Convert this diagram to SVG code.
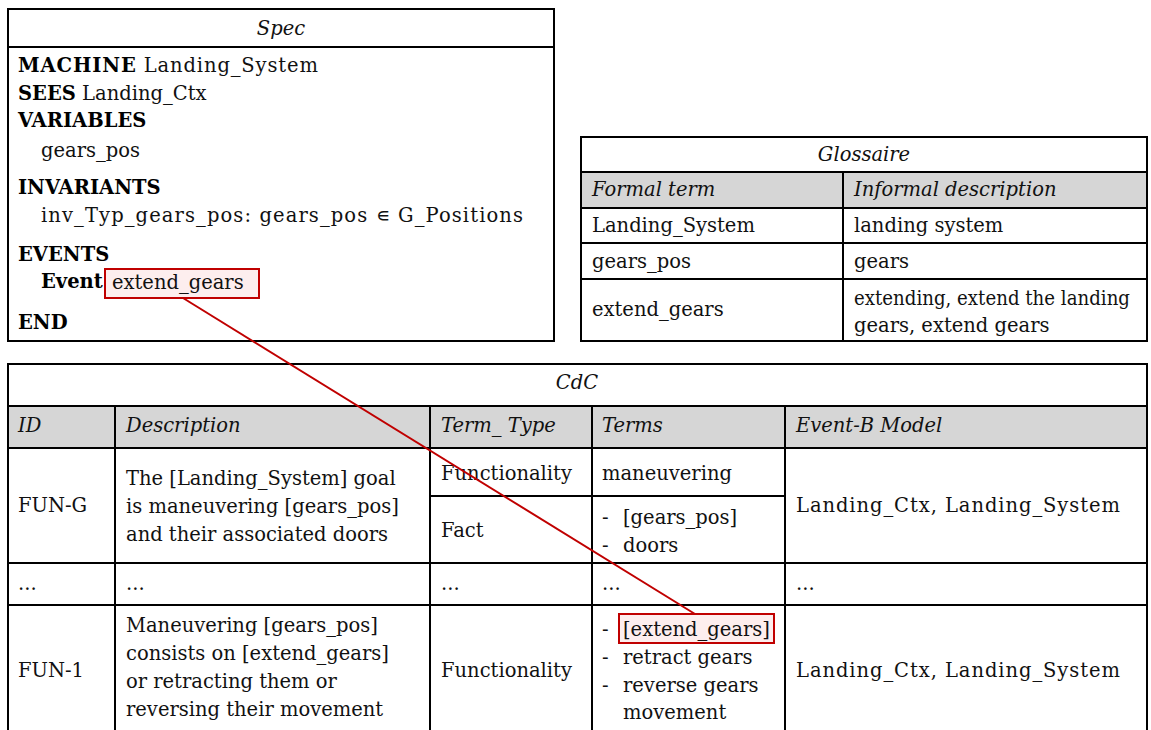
<svg xmlns="http://www.w3.org/2000/svg" width="1151" height="730" viewBox="0 0 1151 730">
<style>
text{font-family:"DejaVu Serif","Liberation Serif",serif;font-size:19.5px;fill:#111}
.it{font-style:italic}
.b{font-weight:bold;fill:#000}
.mid{text-anchor:middle}
.box{fill:#fff;stroke:#000;stroke-width:2}
.hd{fill:#d6d6d6;stroke:#000;stroke-width:2}
.ln{stroke:#000;stroke-width:2;fill:none}
.hl{fill:#fdeeee;stroke:#c00000;stroke-width:2}
.conn{stroke:#c00000;stroke-width:2;fill:none}
</style>
<rect width="1151" height="730" fill="#fff"/>
<g id="spec">
<rect class="box" x="8" y="9" width="546" height="332"/>
<line class="ln" x1="8" y1="47" x2="554" y2="47"/>
<text class="it mid" x="281" y="35">Spec</text>
<text x="18" y="72" textLength="300" lengthAdjust="spacing"><tspan class="b">MACHINE</tspan> Landing_System</text>
<text x="18" y="100"><tspan class="b">SEES</tspan> Landing_Ctx</text>
<text class="b" x="18" y="127">VARIABLES</text>
<text x="41" y="157">gears_pos</text>
<text class="b" x="18" y="194">INVARIANTS</text>
<text x="41" y="222" textLength="482" lengthAdjust="spacing">inv_Typ_gears_pos: gears_pos ∊ G_Positions</text>
<text class="b" x="18" y="261">EVENTS</text>
<text class="b" x="41" y="288">Event</text>
<rect class="hl" x="105" y="269" width="154" height="29"/>
<text x="112" y="289">extend_gears</text>
<text class="b" x="18" y="329">END</text>
</g>
<g id="glossaire">
<rect class="box" x="581" y="137" width="566" height="204"/>
<rect class="hd" x="581" y="172" width="566" height="36"/>
<line class="ln" x1="843" y1="172" x2="843" y2="341"/>
<line class="ln" x1="581" y1="243" x2="1147" y2="243"/>
<line class="ln" x1="581" y1="279" x2="1147" y2="279"/>
<text class="it mid" x="864" y="161">Glossaire</text>
<text class="it" x="592" y="196">Formal term</text>
<text class="it" x="854" y="196">Informal description</text>
<text x="592" y="232">Landing_System</text>
<text x="854" y="232">landing system</text>
<text x="592" y="268">gears_pos</text>
<text x="854" y="268">gears</text>
<text x="592" y="316">extend_gears</text>
<text x="854" y="305" textLength="276" lengthAdjust="spacingAndGlyphs">extending, extend the landing</text>
<text x="854" y="332">gears, extend gears</text>
</g>
<g id="cdc">
<rect class="box" x="8" y="364" width="1139" height="380"/>
<rect class="hd" x="8" y="406" width="1139" height="42"/>
<line class="ln" x1="115" y1="406" x2="115" y2="730"/>
<line class="ln" x1="430" y1="406" x2="430" y2="730"/>
<line class="ln" x1="592" y1="406" x2="592" y2="730"/>
<line class="ln" x1="785" y1="406" x2="785" y2="730"/>
<line class="ln" x1="430" y1="496" x2="785" y2="496"/>
<line class="ln" x1="8" y1="563" x2="1147" y2="563"/>
<line class="ln" x1="8" y1="605" x2="1147" y2="605"/>
<text class="it mid" x="577" y="389">CdC</text>
<text class="it" x="18" y="432">ID</text>
<text class="it" x="126" y="432">Description</text>
<text class="it" x="441" y="432">Term_ Type</text>
<text class="it" x="602" y="432">Terms</text>
<text class="it" x="796" y="432">Event-B Model</text>
<text x="18" y="512">FUN-G</text>
<text x="126" y="485">The [Landing_System] goal</text>
<text x="126" y="513">is maneuvering [gears_pos]</text>
<text x="126" y="541">and their associated doors</text>
<text x="441" y="480">Functionality</text>
<text x="602" y="480">maneuvering</text>
<text x="441" y="537">Fact</text>
<text x="602" y="524">-</text><text x="623" y="524">[gears_pos]</text>
<text x="602" y="552">-</text><text x="623" y="552">doors</text>
<text x="796" y="512" textLength="324" lengthAdjust="spacing">Landing_Ctx, Landing_System</text>
<text x="18" y="590">...</text>
<text x="126" y="590">...</text>
<text x="441" y="590">...</text>
<text x="602" y="590">...</text>
<text x="796" y="590">...</text>
<text x="18" y="677">FUN-1</text>
<text x="126" y="632">Maneuvering [gears_pos]</text>
<text x="126" y="660">consists on [extend_gears]</text>
<text x="126" y="688">or retracting them or</text>
<text x="126" y="716">reversing their movement</text>
<text x="441" y="677">Functionality</text>
<rect class="hl" x="619" y="614" width="155" height="29"/>
<text x="602" y="636">-</text><text x="623" y="636">[extend_gears]</text>
<text x="602" y="664">-</text><text x="623" y="664">retract gears</text>
<text x="602" y="692">-</text><text x="623" y="692">reverse gears</text>
<text x="623" y="719">movement</text>
<text x="796" y="677" textLength="324" lengthAdjust="spacing">Landing_Ctx, Landing_System</text>
</g>
<g id="connectors">
<line class="conn" x1="183" y1="298" x2="695" y2="614"/>
</g>
</svg>
